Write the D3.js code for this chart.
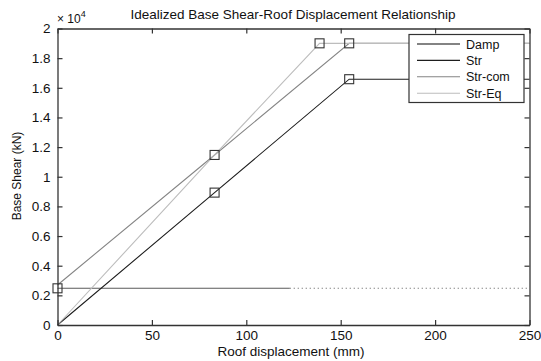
<!DOCTYPE html>
<html>
<head>
<meta charset="utf-8">
<script src="https://cdn.jsdelivr.net/npm/d3@7"></script>
<style>
  html, body { margin: 0; padding: 0; background: #fff; }
  svg text { font-family: "Liberation Sans", Arial, sans-serif; fill: #111; }
</style>
</head>
<body>
<svg id="chart" width="541" height="361"></svg>
<script>
// Idealized capacity curves (roof displacement in mm, base shear in kN)
const seriesNames = ["Damp", "Str", "Str-com", "Str-Eq"];
const seriesColors = ["#5a5a5a", "#1e1e1e", "#858585", "#bdbdbd"];

const dampX = [0, 123];
const dampY = [2475, 2475];
const dampDottedX = [123, 250];
const dampDottedY = [2475, 2475];

const strX = [0, 83.2, 154.5, 250];
const strY = [0, 8930, 16580, 16580];

const strComX = [0, 83.2, 154.5, 250];
const strComY = [2700, 11470, 19000, 19000];

const strEqX = [0, 83.2, 138.8, 250];
const strEqY = [0, 11470, 19000, 19000];

// Points marked with squares
const markerX = [0, 83.2, 83.2, 154.5, 154.5, 138.8];
const markerY = [2475, 8930, 11470, 16580, 19000, 19000];

const xTicks = [0, 50, 100, 150, 200, 250];
const yTicks = [0, 2000, 4000, 6000, 8000, 10000, 12000, 14000, 16000, 18000, 20000];

const svg = d3.select("#chart");
const L = 57.5, R = 529.5, T = 28.5, B = 325;

const x = d3.scaleLinear().domain([0, 250]).range([L, R]);
const y = d3.scaleLinear().domain([0, 20000]).range([B, T]);

const g = svg.append("g");

// Data lines
const line = d3.line().x(d => x(d[0])).y(d => y(d[1]));
const series = [
  { xs: dampX, ys: dampY, color: seriesColors[0], dash: null },
  { xs: dampDottedX, ys: dampDottedY, color: seriesColors[0], dash: "1,3" },
  { xs: strX, ys: strY, color: seriesColors[1], dash: null },
  { xs: strComX, ys: strComY, color: seriesColors[2], dash: null },
  { xs: strEqX, ys: strEqY, color: seriesColors[3], dash: null }
];
series.forEach(s => {
  g.append("path")
    .datum(d3.zip(s.xs, s.ys))
    .attr("d", line)
    .attr("fill", "none")
    .attr("stroke", s.color)
    .attr("stroke-width", 1.1)
    .attr("stroke-dasharray", s.dash);
});

// Square markers
g.selectAll("rect.mk")
  .data(d3.zip(markerX, markerY))
  .enter().append("rect")
  .attr("class", "mk")
  .attr("x", d => x(d[0]) - 4.5)
  .attr("y", d => y(d[1]) - 4.5)
  .attr("width", 9).attr("height", 9)
  .attr("fill", "none")
  .attr("stroke", "#333")
  .attr("stroke-width", 1.1);

// Axes with inward ticks on all four sides
const tickLen = 5;
const fmtY = v => d3.format("")(+(v / 10000).toFixed(1));

const axB = g.append("g").attr("transform", `translate(0,${B})`)
  .call(d3.axisBottom(x).tickValues(xTicks).tickSize(-tickLen).tickSizeOuter(0).tickPadding(5));
const axT = g.append("g").attr("transform", `translate(0,${T})`)
  .call(d3.axisTop(x).tickValues(xTicks).tickSize(-tickLen).tickSizeOuter(0).tickFormat(""));
const axL = g.append("g").attr("transform", `translate(${L},0)`)
  .call(d3.axisLeft(y).tickValues(yTicks).tickSize(-tickLen).tickSizeOuter(0).tickPadding(7).tickFormat(fmtY));
const axR = g.append("g").attr("transform", `translate(${R},0)`)
  .call(d3.axisRight(y).tickValues(yTicks).tickSize(-tickLen).tickSizeOuter(0).tickFormat(""));

[axB, axT, axL, axR].forEach(a => {
  a.select(".domain").attr("stroke", "#333").attr("stroke-width", 1.3);
  a.selectAll(".tick line").attr("stroke", "#333").attr("stroke-width", 1.2);
  a.selectAll(".tick text").style("font-size", "13.5px").attr("fill", "#111");
});

// Exponent label for y axis
const expo = svg.append("text").attr("x", 57).attr("y", 22.5).style("font-size", "12px");
expo.append("tspan").text("× 10");
expo.append("tspan").attr("dy", -6).style("font-size", "9px").text("4");

// Title and axis labels
svg.append("text").attr("x", 293).attr("y", 19).attr("text-anchor", "middle")
  .style("font-size", "13.5px").text("Idealized Base Shear-Roof Displacement Relationship");
svg.append("text").attr("x", 291).attr("y", 356).attr("text-anchor", "middle")
  .style("font-size", "13.5px").text("Roof displacement (mm)");
svg.append("text").attr("transform", "translate(21,176) rotate(-90)").attr("text-anchor", "middle")
  .style("font-size", "12px").text("Base Shear (kN)");

// Legend
const lg = svg.append("g").attr("transform", "translate(409,34.5)");
lg.append("rect").attr("width", 115).attr("height", 68)
  .attr("fill", "#fff").attr("stroke", "#333").attr("stroke-width", 1.2);
seriesNames.forEach((name, i) => {
  const ry = 9.5 + i * 16.4;
  lg.append("line").attr("x1", 8).attr("x2", 51).attr("y1", ry).attr("y2", ry)
    .attr("stroke", seriesColors[i]).attr("stroke-width", i === 0 ? 1.6 : 1.1);
  lg.append("text").attr("x", 57).attr("y", ry + 4.5).style("font-size", "12.5px").text(name);
});
</script>
</body>
</html>
